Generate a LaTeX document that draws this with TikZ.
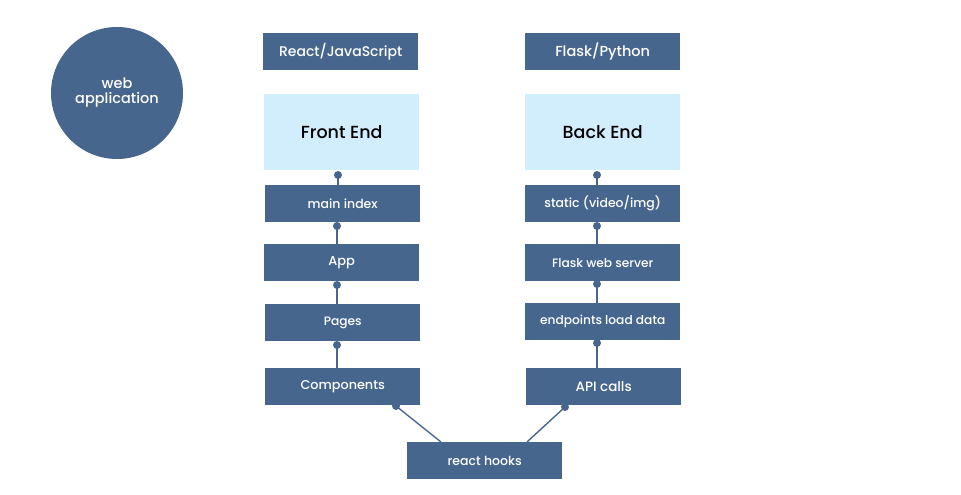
\documentclass[tikz,border=0pt]{standalone}
\usepackage{fontspec}
\setmainfont{Poppins}[UprightFont=* Medium]
\definecolor{boxblue}{HTML}{46668E}
\definecolor{lightblue}{HTML}{D2EEFC}
\begin{document}
\begin{tikzpicture}[x=1pt,y=-1pt,
  bx/.style={fill=boxblue,text=white,inner sep=0pt,minimum width=155pt,minimum height=37pt,anchor=north west},
  big/.style={fill=lightblue,text=black,inner sep=0pt,minimum width=155pt,minimum height=76pt,anchor=north west,font=\fontsize{17.5}{19}\selectfont},
  dot/.style={circle,fill=boxblue,inner sep=0pt,minimum size=8pt},
  link/.style={draw=boxblue,line width=1.4pt}]
\useasboundingbox (0,0) rectangle (961,495);
\node[circle,fill=boxblue,text=white,minimum size=132pt,inner sep=0pt,align=center,font=\fontsize{14.5}{15}\selectfont] (web) at (117,93) {web\\application};
\node[bx,font=\fontsize{14}{15}\selectfont] (react) at (263,33) {React/JavaScript};
\node[bx,font=\fontsize{14.5}{15}\selectfont] (flask) at (525,33) {Flask/Python};
\node[big] (fe) at (264,94) {Front End};
\node[big] (be) at (525,94) {Back End};
\node[bx,font=\fontsize{12.5}{14}\selectfont] (main) at (265,185) {main index};
\node[bx,font=\fontsize{12.5}{14}\selectfont] (static) at (525,185) {static (video/img)};
\node[bx,font=\fontsize{13}{14}\selectfont] (app) at (264,244) {App};
\node[bx,font=\fontsize{12.2}{14}\selectfont] (fws) at (525,244) {Flask web server};
\node[bx,font=\fontsize{12.2}{14}\selectfont] (pages) at (265,304) {Pages};
\node[bx,font=\fontsize{12.2}{14}\selectfont] (epl) at (525,303) {endpoints load data};
\node[bx,font=\fontsize{12.8}{14}\selectfont] (comp) at (265,368) {Components};
\node[bx,font=\fontsize{13.5}{14}\selectfont] (api) at (526,368) {API calls};
\node[bx,font=\fontsize{12.5}{14}\selectfont] (hooks) at (407,442) {react hooks};
% dots
\node[dot] (d1) at (338,175) {};
\node[dot] (d2) at (337,226) {};
\node[dot] (d3) at (337,285) {};
\node[dot] (d4) at (337,345) {};
\node[dot] (d5) at (396,406) {};
\node[dot] (e1) at (597,175) {};
\node[dot] (e2) at (597,226) {};
\node[dot] (e3) at (597,284) {};
\node[dot] (e4) at (597,343) {};
\node[dot] (e5) at (565,407) {};
\coordinate (h1) at (441,442);
\coordinate (h2) at (527,442);
\draw[link] (d1.center) -- (d1.center |- main.north);
\draw[link] (d2.center) -- (d2.center |- app.north);
\draw[link] (d3.center) -- (d3.center |- pages.north);
\draw[link] (d4.center) -- (d4.center |- comp.north);
\draw[link] (e1.center) -- (e1.center |- static.north);
\draw[link] (e2.center) -- (e2.center |- fws.north);
\draw[link] (e3.center) -- (e3.center |- epl.north);
\draw[link] (e4.center) -- (e4.center |- api.north);
\draw[link] (d5.center) -- (h1);
\draw[link] (e5.center) -- (h2);
\end{tikzpicture}
\end{document}
